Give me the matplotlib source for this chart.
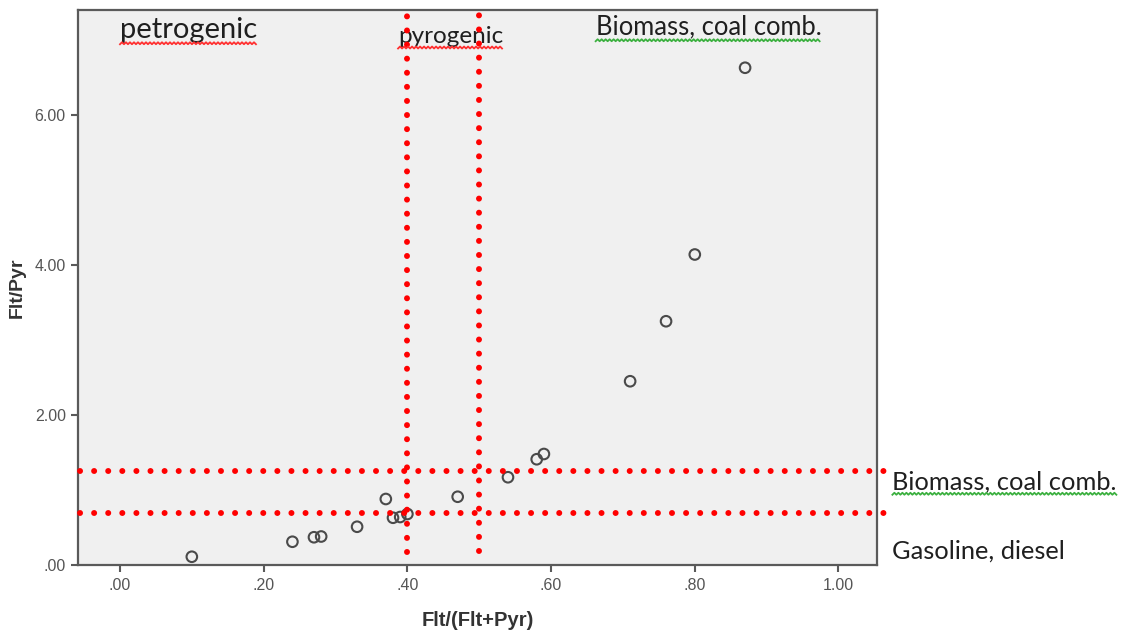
import numpy as np
import matplotlib
matplotlib.use("Agg")
import matplotlib.pyplot as plt
from matplotlib.lines import Line2D
from matplotlib.transforms import IdentityTransform

# Flt/(Flt+Pyr) vs Flt/Pyr ratios
flt_ratio = [0.10, 0.24, 0.27, 0.28, 0.33, 0.37, 0.38, 0.39, 0.40, 0.47,
             0.54, 0.58, 0.59, 0.71, 0.76, 0.80, 0.87]
flt_pyr = [0.11, 0.31, 0.37, 0.38, 0.51, 0.88, 0.63, 0.64, 0.68, 0.91,
           1.17, 1.41, 1.48, 2.45, 3.25, 4.14, 6.63]

# source thresholds
x_limits_src = [0.40, 0.50]
y_limits_src = [0.69, 1.26]

xticks = [0.0, 0.2, 0.4, 0.6, 0.8, 1.0]
xtick_labels = [".00", ".20", ".40", ".60", ".80", "1.00"]
yticks = [0.0, 2.0, 4.0, 6.0]
ytick_labels = [".00", "2.00", "4.00", "6.00"]

W, H = 1124, 634
fig = plt.figure(figsize=(W / 100, H / 100), dpi=100)
fig.patch.set_facecolor("white")
ax = fig.add_axes([78.3 / W, 1 - 565 / H, (877.3 - 78.3) / W, (565 - 10) / H])
ax.set_facecolor("#f0f0f0")
ax.set_xlim(-0.058, 1.054)
ax.set_ylim(0, 7.4)

ax.scatter(flt_ratio, flt_pyr, s=58, facecolors="none", edgecolors="#4a4a4a",
           linewidths=1.5, zorder=3)

for s in ax.spines.values():
    s.set_color("#5a5a5a")
    s.set_linewidth(1.6)

ax.set_xticks(xticks)
ax.set_xticklabels(xtick_labels)
ax.set_yticks(yticks)
ax.set_yticklabels(ytick_labels)
ax.tick_params(direction="out", length=5, width=1.5, color="#5a5a5a",
               labelsize=11.5, labelcolor="#555555", pad=4)
for lab in ax.get_xticklabels() + ax.get_yticklabels():
    lab.set_family("Liberation Sans")
ax.set_xlabel("Flt/(Flt+Pyr)", fontsize=14.5, fontweight="bold",
              color="#333333", labelpad=13, family="Liberation Sans")
ax.set_ylabel("Flt/Pyr", fontsize=14, fontweight="bold",
              color="#333333", labelpad=6, family="Liberation Sans")

dots = dict(color="#ff0000", linewidth=4.3, linestyle=(0, (0.01, 2.35)),
            dash_capstyle="round", clip_on=False, zorder=4)
ax.plot([x_limits_src[0], x_limits_src[0]], [0.17, 7.33], **dots)
ax.plot([x_limits_src[1], x_limits_src[1]], [0.19, 7.42], **dots)
for yv in y_limits_src:
    ax.plot([-0.056, 1.065], [yv, yv], **dots)

font = "Lato"
labels = []
labels.append((ax.text(0.0, 7.03, "petrogenic", fontsize=21, family=font,
                       color="#1f1f1f", va="baseline", clip_on=False), "#ff3030"))
labels.append((ax.text(0.387, 6.96, "pyrogenic", fontsize=17.5, family=font,
                       color="#1f1f1f", va="baseline", clip_on=False), "#ff3030"))
labels.append((ax.text(0.662, 7.07, "Biomass, coal comb.", fontsize=18.4, family=font,
                       color="#1f1f1f", va="baseline", clip_on=False), "#3cb040"))
labels.append((ax.text(1.075, 1.01, "Biomass, coal comb.", fontsize=18.3, family=font,
                       color="#1f1f1f", va="baseline", clip_on=False), "#3cb040"))
ax.text(1.075, 0.09, "Gasoline, diesel", fontsize=18.3, family=font,
        color="#1f1f1f", va="baseline", clip_on=False)

# spell-check squiggles under the labels
fig.canvas.draw()
r = fig.canvas.get_renderer()
for t, c in labels:
    bb = t.get_window_extent(r)
    xs = np.arange(bb.x0, bb.x1, 2.0)
    ys = bb.y0 - 1.5 + np.where(np.arange(len(xs)) % 2 == 0, 0.0, 2.0)
    fig.add_artist(Line2D(xs, ys, color=c, linewidth=1.3,
                          transform=IdentityTransform()))

fig.savefig("out.png", dpi=100)
